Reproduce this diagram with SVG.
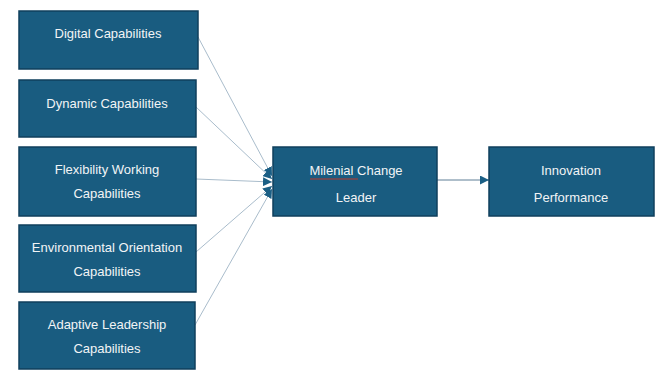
<svg xmlns="http://www.w3.org/2000/svg" width="658" height="370" viewBox="0 0 658 370">
<defs>
<marker id="ah" viewBox="0 0 10 10" refX="10" refY="5" markerWidth="9" markerHeight="9" markerUnits="userSpaceOnUse" orient="auto">
<path d="M0,0 L10,5 L0,10 z" fill="#1b5f85"/>
</marker>
<style>
.box{fill:#195c80;stroke:#0f3f5c;stroke-width:1.5}
.t{fill:#f2f4f6;font-family:"Liberation Sans",Arial,sans-serif;font-size:13px;text-anchor:middle}
.c{fill:none;stroke:#a9bccb;stroke-width:1}
.c2{fill:none;stroke:#5f7f96;stroke-width:1}
</style>
</defs>
<rect width="658" height="370" fill="#ffffff"/>
<g id="connectors">
<line class="c" x1="198" y1="37" x2="272" y2="176" marker-end="url(#ah)"/>
<line class="c" x1="196" y1="107" x2="272" y2="179" marker-end="url(#ah)"/>
<line class="c" x1="196" y1="179" x2="272" y2="182" marker-end="url(#ah)"/>
<line class="c" x1="196" y1="252" x2="272" y2="186" marker-end="url(#ah)"/>
<line class="c" x1="195" y1="325" x2="272" y2="189" marker-end="url(#ah)"/>
<line class="c2" x1="437" y1="180" x2="489" y2="180" marker-end="url(#ah)"/>
</g>
<g id="n1"><rect class="box" x="19" y="11" width="179" height="58"/><text class="t" x="108" y="38">Digital Capabilities</text></g>
<g id="n2"><rect class="box" x="19" y="80" width="177" height="57"/><text class="t" x="107" y="108">Dynamic Capabilities</text></g>
<g id="n3"><rect class="box" x="19" y="147" width="177" height="69"/><text class="t" x="107" y="174">Flexibility Working</text><text class="t" x="107" y="198">Capabilities</text></g>
<g id="n4"><rect class="box" x="19" y="225" width="177" height="67"/><text class="t" x="107" y="252">Environmental Orientation</text><text class="t" x="107" y="276">Capabilities</text></g>
<g id="n5"><rect class="box" x="19" y="302" width="176" height="67"/><text class="t" x="107" y="329">Adaptive Leadership</text><text class="t" x="107" y="353">Capabilities</text></g>
<g id="n6"><rect class="box" x="273" y="147" width="164" height="69"/><text class="t" x="356" y="175">Milenial Change</text><text class="t" x="356" y="202">Leader</text><line x1="310" y1="179" x2="358" y2="179" stroke="#c0392b" stroke-width="1"/></g>
<g id="n7"><rect class="box" x="489" y="147" width="165" height="69"/><text class="t" x="571" y="175">Innovation</text><text class="t" x="571" y="202">Performance</text></g>
</svg>
